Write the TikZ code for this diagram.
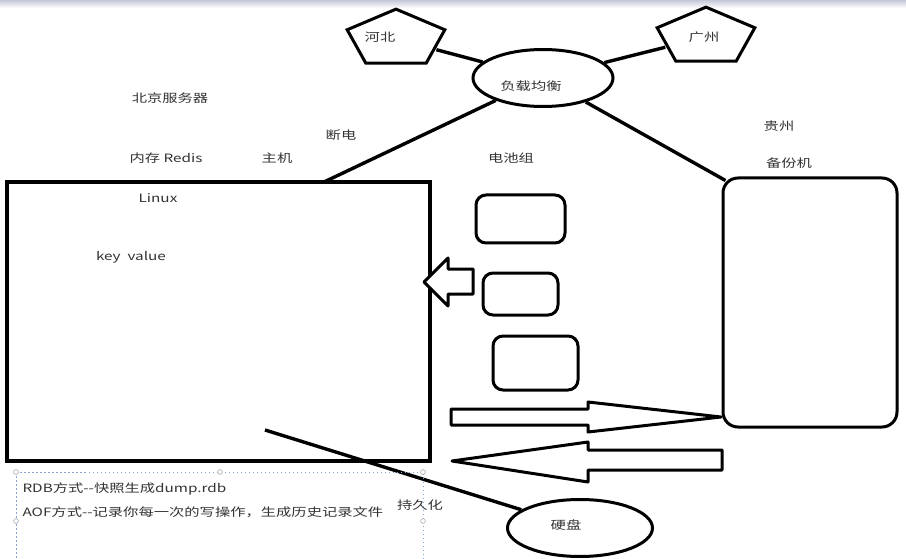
\documentclass[tikz,border=0pt]{standalone}
\usepackage{fontspec}
\setmainfont{Noto Sans CJK SC}[FakeStretch=1.33]
\usetikzlibrary{shapes.geometric}

\begin{document}
\begin{tikzpicture}[
    x=1pt, y=-1pt,
    every node/.style={font=\fontsize{11.5}{13}\selectfont, text=black!80},
    hostbox/.style={rectangle, draw, line width=3.6pt, inner sep=0pt},
    backupbox/.style={rectangle, draw, line width=3pt, rounded corners=15pt, inner sep=0pt},
    cell/.style={rectangle, draw, line width=3pt, rounded corners=10pt, inner sep=0pt},
    pent/.style={regular polygon, regular polygon sides=5, draw, line width=3pt, minimum size=59.7pt, inner sep=0pt, xscale=1.72},
    oval/.style={ellipse, draw, line width=3pt, inner sep=0pt},
    link/.style={line width=3.4pt},
    hollow/.style={draw, line width=3pt, fill=white, line join=round},
    selbox/.style={draw={rgb,255:red,135;green,165;blue,210}, line width=1pt, dash pattern=on 1.5pt off 2.5pt},
    handle/.style={draw=gray!70, fill=white, line width=0.6pt}
]
\path[use as bounding box, clip] (0,0) rectangle (906,559);
\fill[white] (0,0) rectangle (906,559);
\shade[top color={rgb,255:red,196;green,200;blue,214}, bottom color=white] (0,0) rectangle (906,8);

% 节点
\node[hostbox, minimum width=423pt, minimum height=279pt] (host) at (218.5,321.5) {};
\node[backupbox, minimum width=174pt, minimum height=249pt] (backup) at (810,302.5) {};
\node[cell, minimum width=89pt, minimum height=48pt] (cellA) at (520.5,219) {};
\node[cell, minimum width=75pt, minimum height=42pt] (cellB) at (520.5,294) {};
\node[cell, minimum width=85pt, minimum height=54pt] (cellC) at (535.5,363) {};
\node[pent] (hebei) at (396,39) {};
\node[pent] (guangzhou) at (706,37) {};
\node[oval, minimum width=140pt, minimum height=57pt] (balance) at (543,78) {};
\node[oval, minimum width=145pt, minimum height=57pt] (disk) at (580,528) {};

% 文字
\node (hebeiT) at (380,37) {河北};
\node (guangzhouT) at (704,37) {广州};
\node (balanceT) at (531,86) {负载均衡};
\node (diskT) at (566,525) {硬盘};
\node (beijing) at (170,98) {北京服务器};
\node (cut) at (341,135) {断电};
\node (memory) at (166,158) {内存 Redis};
\node (mainhost) at (277,158) {主机};
\node (battery) at (511,158) {电池组};
\node (guizhou) at (779,126) {贵州};
\node (backupT) at (789,163) {备份机};
\node (linux) at (158,198) {Linux};
\node (kv) at (131,257) {key\ \ value};
\node (persist) at (420,505) {持久化};
\node[anchor=west] (rdb) at (19,489) {RDB方式-{}-快照生成dump.rdb};
\node[anchor=west] (aof) at (19,512) {AOF方式-{}-记录你每一次的写操作，生成历史记录文件};

% 连线
\coordinate (hostTop) at (324,182);
\coordinate (persistEnd) at (265,430);
\draw[link] (balance) -- (hebei);
\draw[link] (balance) -- (guangzhou);
\draw[link] (balance) -- (hostTop);
\draw[link] (balance) -- ([shift={(4,4)}]backup.north west);
\draw[link] (disk) -- (persistEnd);

% 空心箭头
\coordinate (chargeTip) at (424,282);
\coordinate (syncTip) at (721,417);
\coordinate (restoreTip) at (452,461);
\draw[hollow] (chargeTip) -- ++(24,-24) -- ++(0,11) -- ++(25,0) -- ++(0,25) -- ++(-25,0) -- ++(0,12) -- cycle;
\draw[hollow] (syncTip) -- ++(-133,-15) -- ++(0,7) -- ++(-137,0) -- ++(0,16) -- ++(137,0) -- ++(0,7) -- cycle;
\draw[hollow] (restoreTip) -- ++(136,-19) -- ++(0,8) -- ++(134,0) -- ++(0,20) -- ++(-134,0) -- ++(0,12) -- cycle;

% 文本框
\draw[selbox] (16,472) rectangle (423,590);
\foreach \p in {(16,472),(220,472),(423,472),(16,521),(423,521)}
    \filldraw[handle] \p circle (2.4);

\end{tikzpicture}
\end{document}
